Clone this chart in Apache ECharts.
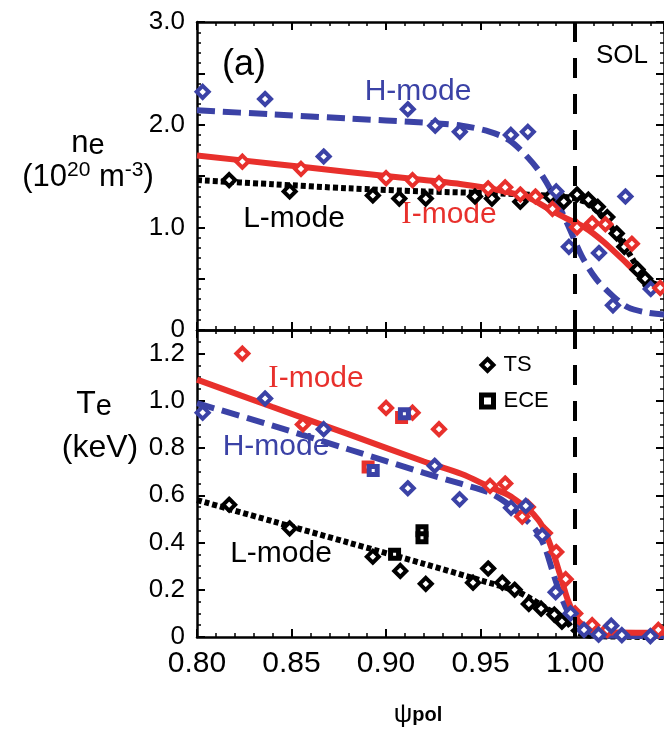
<!DOCTYPE html>
<html>
<head>
<meta charset="utf-8">
<script src="https://cdn.jsdelivr.net/npm/echarts@6/dist/echarts.min.js"></script>
<style>
  html, body { margin: 0; padding: 0; background: #fff; }
  #chart { width: 664px; height: 729px; }
</style>
</head>
<body>
<div id="chart"></div>
<script>
// psi_pol axis
var xMin = 0.80, xMax = 1.047, xStep = 0.05;

// ---- top panel: n_e (10^20 m^-3) ----
var neHPts = [[0.803,2.32],[0.836,2.25],[0.867,1.69],[0.9115,2.15],[0.926,1.99],[0.939,1.93],[0.966,1.90],[0.975,1.93],[0.990,1.35],[0.9967,0.81],[1.0126,0.75],[1.020,0.24],[1.0266,1.30],[1.040,0.40]];
var neHFit = [[0.80,2.14],[0.84,2.10],[0.88,2.06],[0.92,2.02],[0.94,1.99],[0.955,1.93],[0.965,1.85],[0.975,1.68],[0.982,1.52],[0.989,1.30],[0.9965,1.01],[1.0035,0.72],[1.011,0.50],[1.020,0.33],[1.028,0.22],[1.038,0.17],[1.047,0.15]];
var neIPts = [[0.824,1.64],[0.855,1.57],[0.900,1.48],[0.914,1.46],[0.928,1.43],[0.954,1.38],[0.963,1.39],[0.971,1.32],[0.979,1.30],[0.988,1.18],[1.001,1.00],[1.009,1.04],[1.016,1.03],[1.030,0.84],[1.045,0.41]];
var neIFit = [[0.80,1.70],[0.84,1.62],[0.88,1.54],[0.92,1.46],[0.94,1.42],[0.96,1.36],[0.975,1.29],[0.985,1.19],[0.995,1.09],[1.005,1.00],[1.015,0.86],[1.025,0.69],[1.035,0.52],[1.047,0.38]];
var neLPts = [[0.817,1.46],[0.849,1.35],[0.893,1.31],[0.907,1.28],[0.921,1.28],[0.947,1.30],[0.956,1.28],[0.971,1.25],[0.987,1.30],[0.994,1.25],[1.001,1.32],[1.007,1.27],[1.012,1.20],[1.017,1.10],[1.022,0.94],[1.026,0.81],[1.033,0.59],[1.037,0.50],[1.040,0.43]];
var neLFit = [[0.80,1.46],[0.84,1.42],[0.88,1.38],[0.92,1.35],[0.96,1.33],[0.985,1.31],[0.997,1.29],[1.005,1.25],[1.012,1.15],[1.020,0.98],[1.028,0.76],[1.035,0.56],[1.041,0.46],[1.047,0.42]];

// ---- bottom panel: T_e (keV) ----
var teHPts = [[0.803,0.95],[0.836,1.01],[0.867,0.88],[0.9115,0.63],[0.9257,0.725],[0.9389,0.583],[0.9661,0.547],[0.9739,0.555],[0.9826,0.43],[0.9897,0.19],[0.9976,0.10],[1.0047,0.03],[1.0124,0.01],[1.0191,0.048],[1.0247,0.008],[1.0398,0.004]];
var teHEce = [[0.8932,0.705],[0.9097,0.945]];
var teHFit = [[0.80,0.99],[0.84,0.895],[0.88,0.795],[0.92,0.695],[0.94,0.648],[0.955,0.61],[0.965,0.56],[0.972,0.51],[0.979,0.455],[0.984,0.38],[0.988,0.28],[0.992,0.185],[0.996,0.11],[1.000,0.065],[1.006,0.028],[1.014,0.006],[1.047,0.004]];
var teIPts = [[0.824,1.20],[0.856,0.90],[0.900,0.97],[0.914,0.95],[0.928,0.88],[0.955,0.64],[0.963,0.65],[0.972,0.51],[0.975,0.55],[0.984,0.44],[0.990,0.36],[0.995,0.245],[1.000,0.10],[1.009,0.05],[1.017,0.03],[1.044,0.03]];
var teIEce = [[0.8905,0.72],[0.9082,0.93]];
var teIFit = [[0.80,1.09],[0.84,0.974],[0.88,0.859],[0.92,0.743],[0.94,0.69],[0.955,0.635],[0.965,0.60],[0.972,0.56],[0.978,0.52],[0.983,0.465],[0.988,0.365],[0.992,0.265],[0.996,0.16],[1.001,0.075],[1.007,0.038],[1.015,0.02],[1.047,0.018]];
var teLPts = [[0.817,0.56],[0.849,0.46],[0.893,0.34],[0.9075,0.28],[0.921,0.225],[0.946,0.23],[0.954,0.29],[0.9615,0.23],[0.968,0.20],[0.9755,0.14],[0.982,0.12],[0.989,0.095],[0.993,0.065]];
var teLEce = [[0.9045,0.35],[0.919,0.45],[0.919,0.42]];
var teLFit = [[0.80,0.58],[0.84,0.49],[0.88,0.40],[0.92,0.31],[0.95,0.24],[0.97,0.19],[0.985,0.12],[0.995,0.07],[1.000,0.025],[1.008,0.005],[1.047,0.0]];

var sepX = 1.00; // SOL boundary

var FONT = "'Liberation Sans', Arial, Helvetica, sans-serif";
var BLUE = "#3b42a6", RED = "#e8302c", BLACK = "#000";

var chart = echarts.init(document.getElementById("chart"));

function xAxisOf(grid, pos, labels) {
  return {
    type: "value", gridIndex: grid, position: pos,
    min: xMin, max: xMax, interval: xStep,
    axisLine: { show: true, onZero: false, lineStyle: { color: BLACK, width: 2.5 } },
    axisTick: { show: true, inside: true, length: 8, lineStyle: { color: BLACK, width: 2 } },
    minorTick: { show: true, splitNumber: 5, length: 4, lineStyle: { color: BLACK, width: 1.5 } },
    splitLine: { show: false },
    axisLabel: {
      show: labels, showMaxLabel: false, margin: 12,
      color: BLACK, fontSize: 30, fontFamily: FONT,
      formatter: function (v) { return v.toFixed(2); },
    },
  };
}

function yAxisOf(grid, pos, labels, max, step, minorSplit, fmt) {
  return {
    type: "value", gridIndex: grid, position: pos,
    min: 0, max: max, interval: step,
    axisLine: { show: true, onZero: false, lineStyle: { color: BLACK, width: 2.5 } },
    axisTick: { show: true, inside: true, length: 8, lineStyle: { color: BLACK, width: 2 } },
    minorTick: { show: true, splitNumber: minorSplit, length: 4, lineStyle: { color: BLACK, width: 1.5 } },
    splitLine: { show: false },
    axisLabel: {
      show: labels, showMaxLabel: labels && max === 3, margin: 12,
      color: BLACK, fontSize: 26, fontFamily: FONT, formatter: fmt,
    },
  };
}

var fmtNe = function (v) {
  if (Math.abs(v - Math.round(v)) > 1e-6) return "";
  return v === 0 ? "0" : v.toFixed(1);
};
var fmtTe = function (v) { return v === 0 ? "0" : v.toFixed(1); };

function fit(data, ax, color, type) {
  return {
    type: "line", xAxisIndex: ax, yAxisIndex: ax, data: data,
    symbol: "none", showSymbol: false, smooth: 0.3,
    lineStyle: { color: color, width: 6, type: type, cap: "butt" },
    silent: true, z: 2,
  };
}

function pts(name, data, ax, color, symbol, size, bw) {
  return {
    type: "scatter", name: name, xAxisIndex: ax, yAxisIndex: ax, data: data,
    symbol: symbol, symbolSize: size,
    itemStyle: { color: "#fff", borderColor: color, borderWidth: bw || 4, opacity: 1 },
    silent: true, z: 3,
  };
}

var solLine = {
  silent: true, symbol: ["none", "none"], label: { show: false },
  lineStyle: { color: BLACK, width: 4, type: [20, 16] },
  data: [{ xAxis: sepX }],
};

var topL = fit(neLFit, 0, BLACK, [5, 3]);
topL.markLine = solLine;
var botL = fit(teLFit, 2, BLACK, [5, 3]);
botL.markLine = solLine;

function label(text, x, y, color, size) {
  return {
    type: "text", x: x, y: y, silent: true,
    style: { text: text, fill: color, fontSize: size, fontFamily: FONT, align: "center", verticalAlign: "middle" },
  };
}

function modeI(x, y) {
  return {
    type: "text", x: x, y: y, silent: true,
    style: {
      text: "{s|I}{n|-mode}", fill: RED, align: "center", verticalAlign: "middle",
      rich: {
        s: { fontSize: 31, fontFamily: "'Liberation Serif', serif", fill: RED },
        n: { fontSize: 30, fontFamily: FONT, fill: RED },
      },
    },
  };
}

var option = {
  backgroundColor: "#fff",
  animation: false,
  grid: [
    { left: 197, top: 22, width: 468, height: 308 },
    { left: 197, top: 330, width: 468, height: 307 },
  ],
  xAxis: [
    xAxisOf(0, "bottom", false),
    xAxisOf(0, "top", false),
    xAxisOf(1, "bottom", true),
    xAxisOf(1, "top", false),
  ],
  yAxis: [
    yAxisOf(0, "left", true, 3, 0.5, 5, fmtNe),
    yAxisOf(0, "right", false, 3, 0.5, 5, fmtNe),
    yAxisOf(1, "left", true, 1.3, 0.2, 4, fmtTe),
    yAxisOf(1, "right", false, 1.3, 0.2, 4, fmtTe),
  ],
  legend: {
    data: [
      { name: "TS", itemStyle: { borderWidth: 4 } },
      { name: "ECE", itemStyle: { borderWidth: 5 } },
    ],
    orient: "vertical", left: 479, top: 354,
    itemWidth: 12, itemHeight: 12, itemGap: 14, padding: 0, selectedMode: false,
    textStyle: { color: BLACK, fontSize: 22, fontFamily: FONT, padding: [0, 0, 0, 5] },
  },
  series: [
    topL,
    fit(neHFit, 0, BLUE, [18, 8]),
    fit(neIFit, 0, RED, "solid"),
    pts("neL", neLPts, 0, BLACK, "diamond", 12),
    pts("neH", neHPts, 0, BLUE, "diamond", 12),
    pts("neI", neIPts, 0, RED, "diamond", 12),

    botL,
    fit(teHFit, 2, BLUE, [18, 8]),
    fit(teIFit, 2, RED, "solid"),
    pts("TS", teLPts, 2, BLACK, "diamond", 12),
    pts("ECE", teLEce, 2, BLACK, "rect", 8, 5),
    pts("teI", teIPts, 2, RED, "diamond", 12),
    pts("teIEce", teIEce, 2, RED, "rect", 8, 5),
    pts("teH", teHPts, 2, BLUE, "diamond", 12),
    pts("teHEce", teHEce, 2, BLUE, "rect", 8, 5),
  ],
  graphic: [
    label("(a)", 244, 65, BLACK, 36),
    label("H-mode", 418, 92, BLUE, 30),
    label("SOL", 622, 56, BLACK, 26),
    label("L-mode", 294, 219, BLACK, 30),
    modeI(449, 215),
    modeI(316, 379),
    label("H-mode", 276, 447, BLUE, 30),
    label("L-mode", 281, 554, BLACK, 30),
    {
      type: "text", x: 88, y: 160, silent: true,
      style: {
        text: "{n|n}{s|e}\n{n|(10}{p|20}{n| m}{p|-3}{n|)}",
        fill: BLACK, align: "center", verticalAlign: "middle",
        rich: {
          n: { fontSize: 31, fontFamily: FONT, lineHeight: 34, fill: BLACK },
          s: { fontSize: 29, fontFamily: FONT, lineHeight: 24, verticalAlign: "bottom", fill: BLACK },
          p: { fontSize: 21, fontFamily: FONT, lineHeight: 16, verticalAlign: "top", fill: BLACK },
        },
      },
    },
    {
      type: "text", x: 94, y: 404, silent: true,
      style: {
        text: "{n|T}{s|e}", fill: BLACK, align: "center", verticalAlign: "middle",
        rich: {
          n: { fontSize: 32, fontFamily: FONT, lineHeight: 34, fill: BLACK },
          s: { fontSize: 29, fontFamily: FONT, lineHeight: 24, verticalAlign: "bottom", fill: BLACK },
        },
      },
    },
    label("(keV)", 100, 448, BLACK, 32),
    {
      type: "text", x: 418, y: 715, silent: true,
      style: {
        text: "{g|\u03c8}{b|pol}", fill: BLACK, align: "center", verticalAlign: "middle",
        rich: {
          g: { fontSize: 26, fontFamily: FONT, fill: BLACK },
          b: { fontSize: 20, fontFamily: FONT, fontWeight: "bold", fill: BLACK },
        },
      },
    },
  ],
};

chart.setOption(option);
</script>
</body>
</html>
